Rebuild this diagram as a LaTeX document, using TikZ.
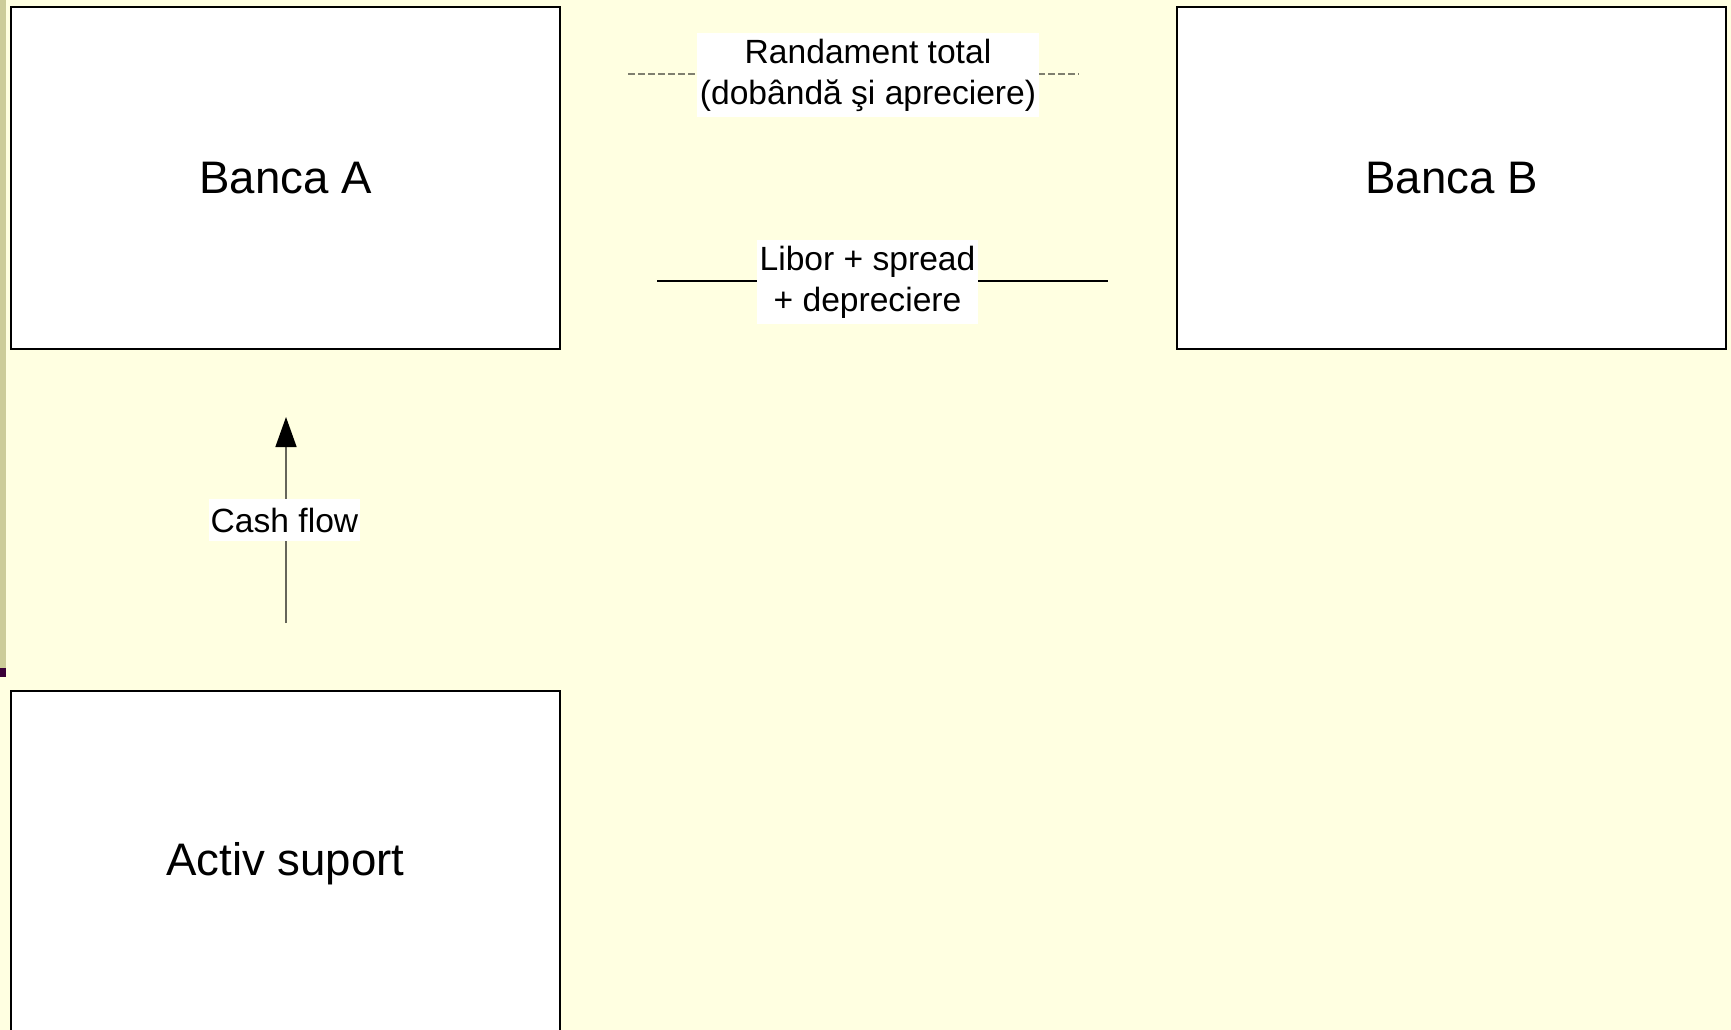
\documentclass[tikz,border=0pt]{standalone}
\usepackage{fontspec}
\setmainfont{Liberation Sans}
\usetikzlibrary{arrows.meta}
\definecolor{bgyellow}{HTML}{FFFFE1}
\definecolor{stripe}{HTML}{CCCC99}
\definecolor{markpurple}{HTML}{3A0038}
\definecolor{dashgray}{HTML}{7F7F6F}
\definecolor{arrowline}{HTML}{66665A}
\tikzset{
  bigbox/.style={draw=black, line width=2.6pt, fill=white, inner sep=0pt, minimum width=549pt, minimum height=342pt, font=\fontsize{45.6}{52}\selectfont},
  lbl/.style={fill=white, inner sep=0pt, align=center, font=\fontsize{33.6}{41}\selectfont},
  dashline/.style={draw=dashgray, line width=1.3pt, dash pattern=on 7pt off 3pt},
  solidline/.style={draw=black, line width=1.5pt},
  flowarrow/.style={draw=arrowline, line width=1.5pt, -{Triangle[width=21pt,length=30pt,fill=black,color=black]}}
}
\begin{document}
\begin{tikzpicture}[x=1pt,y=-1pt]
\useasboundingbox (0,0) rectangle (1731,1030);
\clip (0,0) rectangle (1731,1030);
\fill[bgyellow] (0,0) rectangle (1731,1030);
\fill[stripe] (0,0) rectangle (6,668);
\fill[markpurple] (0,668) rectangle (6,677);

\node[bigbox] (bA) at (285.5,178) {Banca A};
\node[bigbox] (bB) at (1451.5,178) {Banca B};
\node[bigbox, minimum height=346pt] (act) at (285.5,864) {Activ suport};

% Randament total (dashed)
\coordinate (d1) at (628,74);
\coordinate (d2) at (1079,74);
\draw[dashline] (d1) -- (d2);
\node[lbl, minimum width=342pt, minimum height=84pt] (rt) at (868,75) {Randament total\\(dobândă şi apreciere)};

% Libor + spread (solid)
\coordinate (s1) at (657,281);
\coordinate (s2) at (1108,281);
\draw[solidline] (s1) -- (s2);
\node[lbl, minimum width=221pt, minimum height=84pt] (lb) at (867.5,282) {Libor + spread\\+ depreciere};

% Cash flow arrow
\coordinate (c1) at (286,623);
\coordinate (c2) at (286,417);
\draw[flowarrow] (c1) -- (c2);
\node[lbl, minimum width=151pt, minimum height=42pt] (cf) at (284.5,520) {Cash flow};
\end{tikzpicture}
\end{document}
